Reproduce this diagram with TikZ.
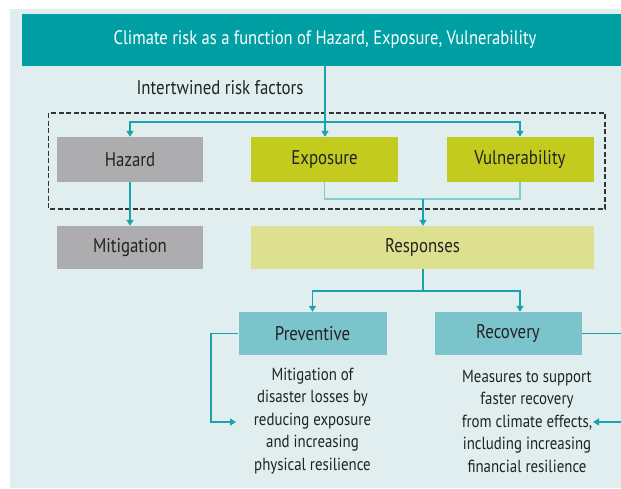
\documentclass[tikz,border=0pt]{standalone}
\usepackage{fontspec}
\setmainfont{PT Sans}[FakeStretch=0.85]
\usetikzlibrary{arrows.meta}
\definecolor{bgc}{HTML}{E0EEEF}
\definecolor{headc}{HTML}{009FA3}
\definecolor{grayc}{HTML}{ADADAF}
\definecolor{limec}{HTML}{C3CB1E}
\definecolor{palec}{HTML}{DDE08F}
\definecolor{tealbox}{HTML}{7CC4CB}
\definecolor{linec}{HTML}{1AA3AD}
\definecolor{lightline}{HTML}{7FCCD1}
\definecolor{txt}{HTML}{222222}
\tikzset{
  box/.style={draw=none, inner sep=0pt, text=txt, font=\fontsize{19.8}{22}\selectfont},
  conn/.style={draw=linec, line width=1.4pt},
  connlight/.style={draw=lightline, line width=1.4pt},
  arr/.style={conn, -{Triangle[width=7pt,length=6pt]}},
  desc/.style={text=txt, align=center, inner sep=0pt, font=\fontsize{17.5}{22.5}\selectfont}
}
\begin{document}
\begin{tikzpicture}[x=1pt,y=-1pt]
\useasboundingbox (0,0) rectangle (621,488);
\fill[white] (0,0) rectangle (621,488);
\fill[bgc] (10,9) rectangle (621,488);
\node[box, fill=headc, text=white, minimum width=606, minimum height=52, font=\fontsize{19.5}{22}\selectfont] (header) at (325,40) {Climate risk as a function of Hazard, Exposure, Vulnerability};
\node[text=txt, inner sep=0pt, font=\fontsize{19.8}{22}\selectfont] (intert) at (220,88) {Intertwined risk factors};
\draw[draw=black!80, line width=1.1pt, dash pattern=on 5pt off 2.5pt] (48.5,113) rectangle (605,209);
\node[box, fill=grayc, minimum width=146, minimum height=45] (hazard) at (130,159.5) {Hazard};
\node[box, fill=limec, minimum width=147, minimum height=45] (exposure) at (324.5,159.5) {Exposure};
\node[box, fill=limec, minimum width=147, minimum height=45] (vuln) at (520,159.5) {Vulnerability};
\node[box, fill=grayc, minimum width=146, minimum height=43] (mitig) at (130,247.5) {Mitigation};
\node[box, fill=palec, minimum width=343, minimum height=43] (resp) at (422.5,247.5) {Responses};
\node[box, fill=tealbox, minimum width=148, minimum height=43] (prev) at (312.5,333.5) {Preventive};
\node[box, fill=tealbox, minimum width=147, minimum height=43] (recov) at (508,333.5) {Recovery};
\node[desc] (prevtext) at (312.5,421) {Mitigation of\\disaster losses by\\reducing exposure\\and increasing\\physical resilience};
\node[desc] (recovtext) at (527,421) {Measures to support\\faster recovery\\from climate effects,\\including increasing\\financial resilience};
\coordinate (s1) at (325,122);
\coordinate (j1) at (423,199);
\coordinate (s2) at (423,291);
\coordinate (recarr) at (520,291);
\coordinate (pl) at (211,333.5);
\coordinate (pl2) at (211,422);
\coordinate (pa) at (236,422);
\coordinate (re) at (625,333.5);
\coordinate (rs) at (625,422);
\coordinate (ra) at (593,422);
\draw[conn] (header.south -| s1) -- (s1);
\draw[arr] (s1) -| (hazard.north);
\draw[arr] (s1) -| (vuln.north);
\draw[arr] (s1) -- (exposure.north -| s1);
\draw[connlight] (exposure.south) |- (j1) -| (vuln.south);
\draw[arr] (j1) -- (resp.north -| j1);
\draw[arr] (hazard.south) -- (mitig.north);
\draw[conn] (resp.south -| s2) -- (s2);
\draw[arr] (s2) -| (prev.north);
\draw[arr] (s2) -- (recarr) -- (recov.north -| recarr);
\draw[arr] (prev.west) -- (pl) -- (pl2) -- (pa);
\draw[conn] (recov.east) -- (re);
\draw[arr] (rs) -- (ra);
\end{tikzpicture}
\end{document}
